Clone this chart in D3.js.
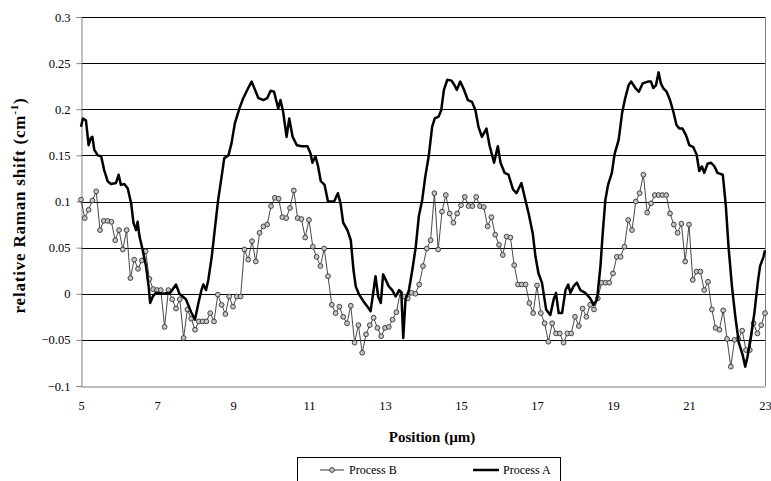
<!DOCTYPE html>
<html>
<head>
<meta charset="utf-8">
<script src="https://cdn.jsdelivr.net/npm/d3@7"></script>
<style>
  body { margin: 0; background: #fff; }
  svg { display: block; }
</style>
</head>
<body>
<div id="chart"></div>
<script>
// tick labels
var xTicks = [5, 7, 9, 11, 13, 15, 17, 19, 21, 23];
var yTicks = [-0.1, -0.05, 0, 0.05, 0.1, 0.15, 0.2, 0.25, 0.3];

// Process B, one point every 0.1 um from 5 to 23
var posB = d3.range(0, 181).map(function (i) { return +(5 + i * 0.1).toFixed(1); });
var valB = [
  0.102, 0.082, 0.091, 0.101, 0.111, 0.069, 0.079, 0.079, 0.078, 0.058,
  0.069, 0.048, 0.069, 0.017, 0.037, 0.027, 0.036, 0.046, 0.016, 0.005,
  0.004, 0.004, -0.036, 0.004, -0.006, -0.016, -0.006, -0.048, -0.017, -0.027,
  -0.039, -0.03, -0.03, -0.03, -0.021, -0.03, -0.001, -0.012, -0.022, -0.003,
  -0.014, -0.003, -0.003, 0.048, 0.037, 0.057, 0.035, 0.066, 0.073, 0.075,
  0.095, 0.104, 0.103, 0.083, 0.082, 0.093, 0.112, 0.082, 0.081, 0.061,
  0.08, 0.051, 0.04, 0.03, 0.049, 0.019, -0.012, -0.021, -0.014, -0.025,
  -0.032, -0.013, -0.053, -0.034, -0.064, -0.044, -0.034, -0.026, -0.037, -0.046,
  -0.037, -0.036, -0.028, -0.02, 0.001, -0.003, -0.005, 0.001, 0.0, 0.01,
  0.03, 0.049, 0.058, 0.109, 0.048, 0.089, 0.107, 0.087, 0.077, 0.087,
  0.096, 0.105, 0.095, 0.095, 0.105, 0.095, 0.094, 0.073, 0.083, 0.064,
  0.053, 0.042, 0.062, 0.061, 0.031, 0.01, 0.01, 0.01, -0.01, -0.021,
  0.009, -0.021, -0.032, -0.052, -0.032, -0.043, -0.043, -0.053, -0.043, -0.043,
  -0.025, -0.035, -0.016, -0.025, -0.012, -0.017, -0.005, 0.012, 0.012, 0.012,
  0.022, 0.04, 0.04, 0.051, 0.08, 0.069, 0.1, 0.109, 0.129, 0.088,
  0.098, 0.107, 0.107, 0.107, 0.107, 0.087, 0.075, 0.066, 0.076, 0.035,
  0.075, 0.015, 0.024, 0.024, 0.004, 0.013, -0.017, -0.037, -0.039, -0.018,
  -0.049, -0.079, -0.05, -0.049, -0.04, -0.061, -0.061, -0.032, -0.043, -0.034,
  -0.021
];

// Process A
var posA = [
  5.0, 5.05, 5.13, 5.2, 5.26, 5.3, 5.35, 5.44, 5.53, 5.61, 5.7, 5.79, 5.92, 5.99, 6.05, 6.14, 6.23, 6.32, 6.38, 6.45,
  6.49, 6.54, 6.62, 6.71, 6.78, 6.82, 6.89, 6.97, 7.15, 7.35, 7.5, 7.59, 7.76, 7.9, 8.0, 8.09, 8.17, 8.22, 8.29, 8.35,
  8.44, 8.53, 8.61, 8.7, 8.77, 8.88, 8.96, 9.05, 9.17, 9.27, 9.4, 9.49, 9.58, 9.67, 9.8, 9.9, 9.99, 10.08, 10.19, 10.25,
  10.32, 10.41, 10.48, 10.57, 10.68, 10.81, 10.96, 11.04, 11.09, 11.17, 11.24, 11.31, 11.41, 11.5, 11.66, 11.76, 11.83, 11.9, 12.01, 12.1,
  12.17, 12.23, 12.32, 12.43, 12.54, 12.62, 12.69, 12.75, 12.82, 12.89, 12.95, 13.02, 13.1, 13.19, 13.28, 13.37, 13.43, 13.48, 13.54, 13.63,
  13.72, 13.81, 13.89, 13.98, 14.06, 14.15, 14.24, 14.31, 14.41, 14.48, 14.55, 14.64, 14.75, 14.83, 14.89, 14.98, 15.08, 15.18, 15.29, 15.38,
  15.46, 15.55, 15.67, 15.75, 15.87, 15.97, 16.04, 16.15, 16.25, 16.37, 16.46, 16.59, 16.68, 16.78, 16.89, 16.96, 17.04, 17.13, 17.24, 17.35,
  17.44, 17.5, 17.57, 17.66, 17.75, 17.82, 17.88, 17.96, 18.05, 18.14, 18.27, 18.4, 18.49, 18.58, 18.67, 18.73, 18.8, 18.87, 18.97, 19.04,
  19.15, 19.24, 19.31, 19.41, 19.48, 19.59, 19.68, 19.78, 19.92, 20.0, 20.06, 20.13, 20.2, 20.26, 20.32, 20.41, 20.5, 20.59, 20.67, 20.75,
  20.83, 20.92, 21.01, 21.11, 21.2, 21.27, 21.34, 21.4, 21.49, 21.58, 21.67, 21.75, 21.89, 21.97, 22.04, 22.13, 22.22, 22.31, 22.41, 22.48,
  22.54, 22.63, 22.72, 22.81, 22.87, 22.96, 23.0
];
var valA = [
  0.181, 0.19, 0.188, 0.161, 0.169, 0.17, 0.156, 0.15, 0.149, 0.134, 0.122, 0.119, 0.12, 0.129, 0.118, 0.119, 0.114, 0.098, 0.077, 0.069,
  0.078, 0.062, 0.048, 0.03, 0.008, -0.01, -0.003, 0.001, 0.0, 0.001, 0.01, 0.0, -0.006, -0.02, -0.028, -0.01, 0.004, 0.01, 0.004, 0.015,
  0.04, 0.073, 0.102, 0.127, 0.147, 0.15, 0.163, 0.185, 0.201, 0.212, 0.223, 0.23, 0.221, 0.212, 0.21, 0.212, 0.22, 0.219, 0.201, 0.21,
  0.197, 0.17, 0.19, 0.17, 0.161, 0.16, 0.16, 0.152, 0.142, 0.149, 0.138, 0.122, 0.118, 0.1, 0.1, 0.109, 0.098, 0.077, 0.069, 0.058,
  0.026, 0.008, -0.001, -0.008, -0.014, -0.019, 0.001, 0.019, -0.003, -0.01, 0.021, 0.015, 0.008, 0.004, -0.003, 0.004, 0.001, -0.048, -0.006, 0.004,
  0.026, 0.051, 0.084, 0.102, 0.127, 0.149, 0.181, 0.19, 0.192, 0.199, 0.221, 0.232, 0.231, 0.226, 0.221, 0.23, 0.221, 0.21, 0.208, 0.199,
  0.181, 0.17, 0.179, 0.161, 0.142, 0.16, 0.142, 0.131, 0.129, 0.113, 0.109, 0.12, 0.104, 0.087, 0.065, 0.04, 0.022, 0.012, -0.017, -0.023,
  -0.006, 0.001, -0.021, -0.021, 0.004, 0.01, 0.001, 0.008, 0.012, 0.004, 0.001, -0.005, -0.012, -0.006, 0.03, 0.066, 0.102, 0.118, 0.131, 0.151,
  0.167, 0.196, 0.21, 0.226, 0.23, 0.223, 0.219, 0.228, 0.23, 0.23, 0.223, 0.226, 0.24, 0.228, 0.223, 0.219, 0.21, 0.197, 0.183, 0.179,
  0.179, 0.172, 0.161, 0.159, 0.151, 0.133, 0.138, 0.131, 0.141, 0.142, 0.138, 0.131, 0.129, 0.095, 0.051, 0.008, -0.025, -0.053, -0.066, -0.079,
  -0.068, -0.046, -0.021, 0.012, 0.03, 0.04, 0.047
];

var width = 771;
var height = 481;
var margin = { left: 81, right: 6, top: 17, bottom: 95 };
var serif = "Liberation Serif";

var svg = d3.select("#chart").append("svg")
    .attr("width", width)
    .attr("height", height);

var x = d3.scaleLinear().domain([5, 23]).range([margin.left, width - margin.right]);
var y = d3.scaleLinear().domain([-0.1, 0.3]).range([height - margin.bottom, margin.top]);

// horizontal gridlines
svg.append("g")
    .selectAll("line")
    .data(yTicks.slice(1))
    .enter().append("line")
    .attr("x1", x(5))
    .attr("x2", x(23))
    .attr("y1", function (d) { return Math.round(y(d)) + 0.5; })
    .attr("y2", function (d) { return Math.round(y(d)) + 0.5; })
    .style("stroke", "#000")
    .style("stroke-width", 1);

// right border
svg.append("line")
    .attr("x1", Math.round(x(23)) + 0.5).attr("x2", Math.round(x(23)) + 0.5)
    .attr("y1", y(0.3)).attr("y2", y(-0.1))
    .style("stroke", "#808080");

// y axis
var yAxis = svg.append("g")
    .attr("transform", "translate(" + (Math.round(x(5)) + 0.5) + ",0)")
    .call(d3.axisLeft(y).tickValues(yTicks).tickSize(5).tickFormat(function (d) { return d3.format("")(+d.toFixed(2)); }));
yAxis.select(".domain").style("stroke", "#808080");
yAxis.selectAll(".tick line").style("stroke", "#808080");
yAxis.selectAll(".tick text")
    .attr("x", -11)
    .style("font-family", serif)
    .style("font-size", "12.5px");

// x axis
var xAxis = svg.append("g")
    .attr("transform", "translate(0," + (Math.round(y(-0.1)) + 0.5) + ")")
    .call(d3.axisBottom(x).tickValues(xTicks).tickSize(0).tickFormat(d3.format("d")));
xAxis.select(".domain").style("stroke", "#808080");
xAxis.selectAll(".tick text")
    .attr("y", 15)
    .style("font-family", serif)
    .style("font-size", "12.5px");

// Process B line + markers
var lineB = d3.line()
    .x(function (d, i) { return x(posB[i]); })
    .y(function (d) { return y(d); });

svg.append("path")
    .datum(valB)
    .attr("d", lineB)
    .style("fill", "none")
    .style("stroke", "#333")
    .style("stroke-width", 0.9);

svg.selectAll("circle.b")
    .data(valB)
    .enter().append("circle")
    .attr("class", "b")
    .attr("cx", function (d, i) { return x(posB[i]); })
    .attr("cy", function (d) { return y(d); })
    .attr("r", 2.4)
    .style("fill", "#c4c4c4")
    .style("stroke", "#333")
    .style("stroke-width", 0.9);

// Process A line
var lineA = d3.line()
    .x(function (d, i) { return x(posA[i]); })
    .y(function (d) { return y(d); });

svg.append("path")
    .datum(valA)
    .attr("d", lineA)
    .style("fill", "none")
    .style("stroke", "#000")
    .style("stroke-width", 2.5)
    .style("stroke-linejoin", "round");

// axis titles
var yTitle = svg.append("text")
    .attr("transform", "translate(25," + (y(0.1) + 4) + ") rotate(-90)")
    .attr("text-anchor", "middle")
    .style("font-family", serif)
    .style("font-size", "17px")
    .style("letter-spacing", "0.8px")
    .style("font-weight", "bold");
yTitle.append("tspan").text("relative Raman shift (cm");
yTitle.append("tspan").attr("dy", -7).style("font-size", "11px").text("-1");
yTitle.append("tspan").attr("dy", 7).text(")");

svg.append("text")
    .attr("x", 432)
    .attr("y", 442)
    .attr("text-anchor", "middle")
    .style("font-family", serif)
    .style("font-size", "15px")
    .style("font-weight", "bold")
    .text("Position (\u00b5m)");

// legend
var legend = svg.append("g");
legend.append("rect")
    .attr("x", 297.5).attr("y", 457.5)
    .attr("width", 263).attr("height", 30)
    .style("fill", "#fff")
    .style("stroke", "#000");

legend.append("line")
    .attr("x1", 320).attr("x2", 344).attr("y1", 470).attr("y2", 470)
    .style("stroke", "#333");
legend.append("circle")
    .attr("cx", 332).attr("cy", 470).attr("r", 2.4)
    .style("fill", "#c4c4c4").style("stroke", "#333").style("stroke-width", 0.9);
legend.append("text")
    .attr("x", 349).attr("y", 474)
    .style("font-family", serif)
    .style("font-size", "12px")
    .text("Process B");

legend.append("line")
    .attr("x1", 473).attr("x2", 499).attr("y1", 470).attr("y2", 470)
    .style("stroke", "#000").style("stroke-width", 2.5);
legend.append("text")
    .attr("x", 503).attr("y", 474)
    .style("font-family", serif)
    .style("font-size", "12px")
    .text("Process A");
</script>
</body>
</html>
